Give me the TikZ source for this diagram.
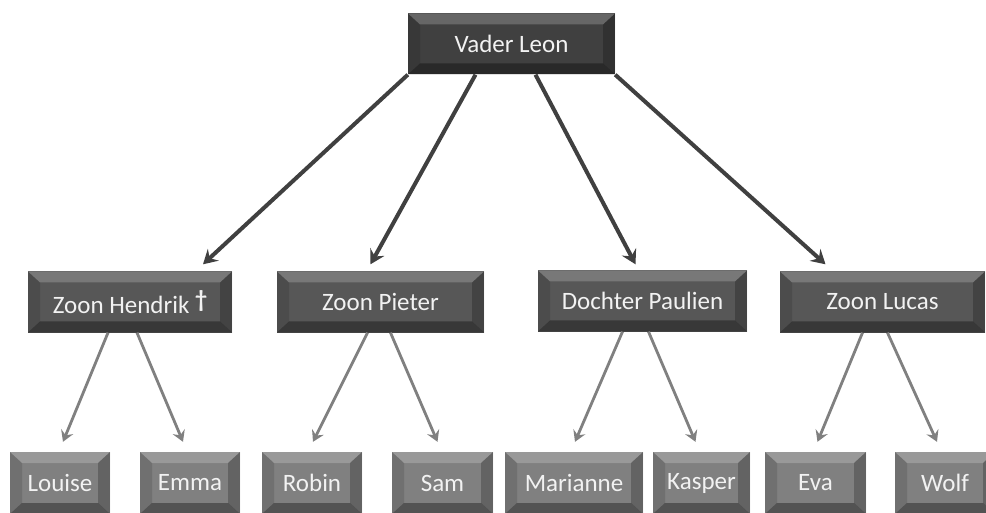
\documentclass[tikz,border=0pt]{standalone}
\usepackage{fontspec}
\setmainfont{Carlito}
\usetikzlibrary{arrows.meta}
\tikzset{
  blok/.style={rectangle, fill=#1, text=white!95!black, inner sep=0pt, minimum height=61pt,
    font=\fontsize{25}{30}\selectfont,
    path picture={
      \path (path picture bounding box.north west) coordinate (pnw)
            (path picture bounding box.north east) coordinate (pne)
            (path picture bounding box.south west) coordinate (psw)
            (path picture bounding box.south east) coordinate (pse);
      \fill[white,opacity=.2] (pnw) -- (pne) -- ([shift={(-12pt,-11pt)}]pne) -- ([shift={(12pt,-11pt)}]pnw) -- cycle;
      \fill[black,opacity=.12] (pnw) -- ([shift={(12pt,-11pt)}]pnw) -- ([shift={(12pt,11pt)}]psw) -- (psw) -- cycle;
      \fill[black,opacity=.22] (pne) -- ([shift={(-12pt,-11pt)}]pne) -- ([shift={(-12pt,11pt)}]pse) -- (pse) -- cycle;
      \fill[black,opacity=.35] (psw) -- ([shift={(12pt,11pt)}]psw) -- ([shift={(-12pt,11pt)}]pse) -- (pse) -- cycle;
    }},
  ouder/.style={blok=black!75},
  kind/.style={blok=black!66},
  kleinkind/.style={blok=black!50, minimum height=62pt},
  pijl/.style={draw=black!75, line width=4pt, -{Stealth[length=14pt,width=16pt,inset=5pt]}},
  pijltje/.style={draw=black!50, line width=2.8pt, -{Stealth[length=11pt,width=13pt,inset=4pt]}},
}
\begin{document}
\begin{tikzpicture}[x=1pt,y=-1pt]
  \clip (0,0) rectangle (986,513);
  \fill[white] (0,0) rectangle (986,513);
  % vader
  \node[ouder, minimum width=207pt] (vader) at (511.5,44) {Vader Leon};
  % kinderen
  \node[kind, minimum width=204pt] (hendrik) at (130,302) {Zoon Hendrik \raisebox{6pt}{\fontsize{24}{24}\selectfont\bfseries †}};
  \node[kind, minimum width=207pt] (pieter) at (380.5,302) {Zoon Pieter};
  \node[kind, minimum width=209pt] (paulien) at (642.5,301) {Dochter Paulien};
  \node[kind, minimum width=205pt] (lucas) at (882.5,302) {Zoon Lucas};
  % kleinkinderen
  \foreach \naam/\x/\w/\tekst in {louise/60/100/Louise, emma/190/100/Emma, robin/312/100/Robin,
      sam/442.5/101/Sam, marianne/574/138/Marianne, kasper/701.5/97/Kasper,
      eva/815.5/101/Eva, wolf/945/100/Wolf}
    \node[kleinkind, minimum width=\w pt] (\naam) at (\x,483) {\tekst};
  % pijlen
  \draw[pijl] (vader.south west) -- ([shift={(73pt,7pt)}]hendrik.north);
  \draw[pijl] ([xshift=-36pt]vader.south) -- ([shift={(-10pt,7pt)}]pieter.north);
  \draw[pijl] ([xshift=24pt]vader.south) -- ([shift={(-7pt,6pt)}]paulien.north);
  \draw[pijl] (vader.south east) -- ([shift={(-57pt,7pt)}]lucas.north);
  \draw[pijltje] ([xshift=-22pt]hendrik.south) -- ([shift={(3pt,10pt)}]louise.north);
  \draw[pijltje] ([xshift=7pt]hendrik.south) -- ([shift={(-7pt,10pt)}]emma.north);
  \draw[pijltje] ([xshift=-13pt]pieter.south) -- ([shift={(1pt,10pt)}]robin.north);
  \draw[pijltje] ([xshift=10pt]pieter.south) -- ([shift={(-5pt,10pt)}]sam.north);
  \draw[pijltje] ([xshift=-20pt]paulien.south) -- ([shift={(1pt,10pt)}]marianne.north);
  \draw[pijltje] ([xshift=6pt]paulien.south) -- ([shift={(-6pt,10pt)}]kasper.north);
  \draw[pijltje] ([xshift=-20pt]lucas.south) -- ([shift={(2pt,10pt)}]eva.north);
  \draw[pijltje] ([xshift=5pt]lucas.south) -- ([shift={(-8pt,10pt)}]wolf.north);
\end{tikzpicture}
\end{document}
